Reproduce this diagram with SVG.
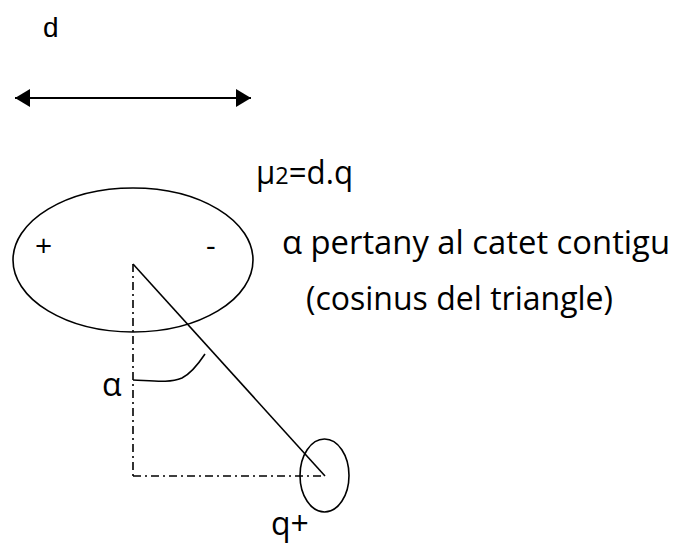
<svg xmlns="http://www.w3.org/2000/svg" width="683" height="547" viewBox="0 0 683 547">
<style>
.t{font-family:"Open Sans","Liberation Sans",sans-serif;fill:#000}
.a{font-family:"Liberation Sans",Arial,sans-serif;fill:#000}
.s{fill:none;stroke:#000;stroke-width:1.6}
.dd{fill:none;stroke:#000;stroke-width:1.6;stroke-dasharray:8,4,2,4}
</style>
<defs>
<marker id="ah" markerWidth="16" markerHeight="18" refX="15" refY="9" orient="auto-start-reverse" markerUnits="userSpaceOnUse">
<path d="M0,0 L15,9 L0,18 Z" fill="#000"/>
</marker>
</defs>
<rect width="683" height="547" fill="#fff"/>
<text class="a" x="43" y="37" font-size="28">d</text>
<g id="connectors">
<line x1="15" y1="98" x2="251" y2="98" stroke="#000" stroke-width="2" marker-start="url(#ah)" marker-end="url(#ah)"/>
<line class="s" x1="133" y1="264" x2="325" y2="476"/>
<line class="dd" x1="133" y1="264" x2="133" y2="476"/>
<line class="dd" x1="133" y1="476" x2="325" y2="476"/>
<path class="s" d="M133,380 C155,381 170,383 182,378 C192,373 199,363 205,354"/>
</g>
<g id="dipole">
<ellipse class="s" cx="133" cy="260" rx="120" ry="72"/>
<text class="t" x="35" y="256" font-size="30">+</text>
<text class="t" x="206" y="256" font-size="30">-</text>
</g>
<g id="charge">
<ellipse class="s" cx="324.5" cy="475.5" rx="24.5" ry="36.5"/>
<text class="t" x="271" y="535" font-size="32">q+</text>
</g>
<text class="t" x="102" y="396" font-size="32">α</text>
<text class="t" x="256" y="184" font-size="32" textLength="97" lengthAdjust="spacingAndGlyphs">μ<tspan font-size="24">2</tspan>=d.q</text>
<text class="t" x="282" y="254" font-size="32" textLength="388" lengthAdjust="spacingAndGlyphs">α pertany al catet contigu</text>
<text class="t" x="306" y="310" font-size="32" textLength="307" lengthAdjust="spacingAndGlyphs">(cosinus del triangle)</text>
</svg>
